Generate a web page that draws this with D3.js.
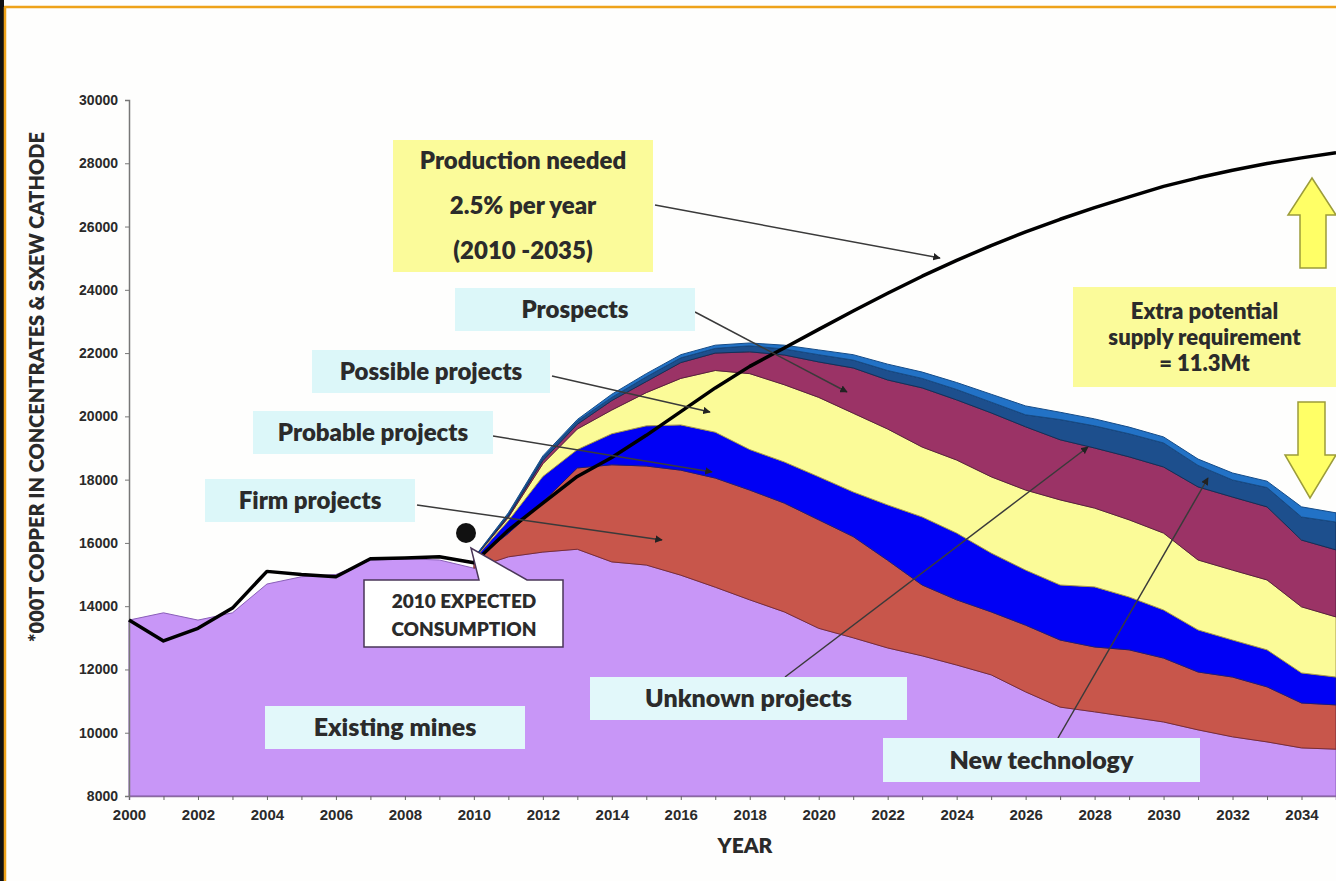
<!DOCTYPE html>
<html>
<head>
<meta charset="utf-8">
<script src="https://cdn.jsdelivr.net/npm/d3@7"></script>
<style>
  html, body { margin: 0; padding: 0; background: #fefefd; }
  svg { display: block; }
</style>
</head>
<body>
<div id="chart"></div>
<script>
// years on the x axis
const years = d3.range(2000, 2036)
const yTicks = d3.range(8000, 30001, 2000)

// '000 t copper
const existingMines = [13560, 13790, 13560, 13790, 14700, 14930, 15000, 15450, 15500, 15460,
  15200, 15560, 15710, 15800, 15400, 15300, 14980, 14600, 14200, 13820,
  13300, 13000, 12680, 12430, 12140, 11830, 11290, 10810, 10660, 10500,
  10340, 10090, 9870, 9710, 9520, 9480]

// project layers start in 2010 (increments on top of each other)
const firmProjects = [250, 740, 1590, 2570, 3070, 3130, 3320, 3450, 3470, 3440,
  3430, 3200, 2770, 2240, 2060, 1990, 2110, 2120, 2050, 2120,
  2020, 1830, 1890, 1740, 1420, 1400]
const probableProjects = [30, 400, 800, 580, 980, 1270, 1430, 1450, 1280, 1300,
  1360, 1410, 1750, 2150, 2110, 1860, 1740, 1740, 1900, 1670,
  1520, 1330, 1170, 1170, 950, 880]
const possibleProjects = [20, 100, 400, 650, 750, 1050, 1470, 1950, 2400, 2440,
  2510, 2490, 2400, 2210, 2310, 2410, 2530, 2690, 2490, 2440,
  2430, 2210, 2210, 2210, 2090, 1900]
const prospects = [10, 50, 100, 150, 300, 350, 500, 550, 690, 940,
  1120, 1430, 1550, 1870, 1900, 2020, 2000, 1900, 1900, 1990,
  2090, 2310, 2310, 2310, 2110, 2120]
const unknownProjects = [10, 50, 100, 100, 100, 150, 150, 150, 190, 190,
  230, 250, 300, 300, 330, 340, 380, 640, 700, 730,
  760, 680, 540, 610, 730, 880]
const newTechnology = [10, 50, 50, 50, 100, 100, 100, 100, 90, 120,
  150, 170, 200, 200, 220, 250, 280, 230, 220, 210,
  190, 200, 220, 200, 320, 290]

const productionNeeded = [13560, 12900, 13300, 13940, 15100, 15000, 14930, 15500, 15520, 15560,
  15370, 16400, 17260, 18100, 18700, 19400, 20150, 20900, 21580, 22160,
  22750, 23330, 23890, 24430, 24930, 25400, 25830, 26230, 26600, 26940,
  27270, 27540, 27780, 27990, 28170, 28330]

const W = 1336, H = 881
const svg = d3.select('#chart').append('svg')
  .attr('width', W)
  .attr('height', H)

svg.append('rect').attr('width', W).attr('height', H).attr('fill', '#fefefd')

// slide frame
svg.append('rect').attr('x', 0).attr('y', 0).attr('width', 4).attr('height', H).attr('fill', '#111')
svg.append('line').attr('x1', 4).attr('x2', W).attr('y1', 7).attr('y2', 7)
  .attr('stroke', '#eea21a').attr('stroke-width', 2.5)
svg.append('line').attr('x1', 5).attr('x2', 5).attr('y1', 7).attr('y2', H)
  .attr('stroke', '#eea21a').attr('stroke-width', 2.5)

const x = d3.scaleLinear().domain([2000, 2035]).range([129, 1336])
const y = d3.scaleLinear().domain([8000, 30000]).range([796, 100])

const keys = ['existing', 'firm', 'probable', 'possible', 'prospects', 'unknown', 'newtech']
const fills = ['#c896f7', '#c8564b', '#0000f5', '#fbfb98', '#9b3366', '#1d4f8d', '#2272c6']
const strokes = ['#8a5fb8', '#7a2c35', '#1a1a80', '#a89a50', '#5a1f40', '#12305a', '#164c88']

const rows = years.map(function (yr, i) {
  const j = yr - 2010
  return {
    year: yr,
    existing: existingMines[i],
    firm: j >= 0 ? firmProjects[j] : 0,
    probable: j >= 0 ? probableProjects[j] : 0,
    possible: j >= 0 ? possibleProjects[j] : 0,
    prospects: j >= 0 ? prospects[j] : 0,
    unknown: j >= 0 ? unknownProjects[j] : 0,
    newtech: j >= 0 ? newTechnology[j] : 0
  }
})

const series = d3.stack().keys(keys)(rows)

const area = d3.area()
  .x(d => x(d.data.year))
  .y0(d => y(Math.max(d[0], 8000)))
  .y1(d => y(d[1]))

const projArea = d3.area()
  .defined(d => d.data.year >= 2010)
  .x(d => x(d.data.year))
  .y0(d => y(d[0]))
  .y1(d => y(d[1]))

series.forEach(function (s, i) {
  svg.append('path')
    .datum(s)
    .attr('d', i === 0 ? area : projArea)
    .attr('fill', fills[i])
    .attr('stroke', strokes[i])
    .attr('stroke-width', 1)
    .attr('stroke-linejoin', 'round')
})

const tickFont = '"Liberation Sans Narrow", "Arial Narrow", sans-serif'

// axes
const xAxis = d3.axisBottom(x).tickValues(years).tickSize(4)
  .tickFormat(d => (d % 2 === 0 && d < 2035) ? d : '')
const gx = svg.append('g').attr('transform', 'translate(0,796)').call(xAxis)
gx.select('.domain').attr('stroke', '#8a6aa0').attr('stroke-width', 1.5)
gx.selectAll('.tick line').attr('stroke', '#666')
gx.selectAll('.tick text')
  .attr('y', 10)
  .attr('dy', '0.9em')
  .style('font-family', tickFont)
  .style('font-weight', 'bold')
  .style('font-size', '15px')
  .attr('fill', '#2a2a2a')

const yAxis = d3.axisLeft(y).tickValues(yTicks).tickSize(4).tickFormat(d3.format('d'))
const gy = svg.append('g').attr('transform', 'translate(129,0)').call(yAxis)
gy.select('.domain').attr('stroke', '#777').attr('stroke-width', 1.5)
gy.selectAll('.tick line').attr('stroke', '#777')
gy.selectAll('.tick text')
  .attr('x', -11)
  .style('font-family', tickFont)
  .style('font-weight', 'bold')
  .style('font-size', '14px')
  .attr('fill', '#2a2a2a')

const labelFont = 'Lato, sans-serif'

svg.append('text')
  .attr('transform', 'translate(44,387) rotate(-90)')
  .attr('text-anchor', 'middle')
  .style('font-family', labelFont)
  .style('font-weight', 800)
  .style('font-size', '20px')
  .attr('fill', '#2a2a2a')
  .text('*000T COPPER IN CONCENTRATES & SXEW CATHODE')

svg.append('text')
  .attr('x', 745).attr('y', 853)
  .attr('text-anchor', 'middle')
  .style('font-family', labelFont)
  .style('font-weight', 800)
  .style('font-size', '21px')
  .attr('fill', '#2a2a2a')
  .text('YEAR')

// production needed line
const line = d3.line().x((d, i) => x(years[i])).y(d => y(d))
svg.append('path')
  .datum(productionNeeded)
  .attr('d', line)
  .attr('fill', 'none')
  .attr('stroke', '#000')
  .attr('stroke-width', 3.5)
  .attr('stroke-linejoin', 'round')

// arrow heads
svg.append('defs').append('marker')
  .attr('id', 'head')
  .attr('viewBox', '0 0 10 10')
  .attr('refX', 9).attr('refY', 5)
  .attr('markerWidth', 5).attr('markerHeight', 5)
  .attr('orient', 'auto')
  .append('path').attr('d', 'M0,0L10,5L0,10z').attr('fill', '#222')

const pointers = [
  [655, 205, 940, 258],
  [695, 312, 847, 392],
  [552, 376, 710, 412],
  [493, 436, 712, 472],
  [417, 505, 662, 540],
  [785, 677, 1088, 447],
  [1058, 738, 1208, 478]
]
svg.selectAll('.ptr').data(pointers).enter().append('line')
  .attr('class', 'ptr')
  .attr('x1', d => d[0]).attr('y1', d => d[1])
  .attr('x2', d => d[2]).attr('y2', d => d[3])
  .attr('stroke', '#3a3a3a')
  .attr('stroke-width', 1.5)
  .attr('marker-end', 'url(#head)')

// label boxes
const labels = [
  { lines: ['Production needed', '2.5% per year', '(2010 -2035)'], x: 393, y: 140, w: 260, h: 132, fill: '#fbfb9a', size: 24, gap: 45 },
  { lines: ['Prospects'], x: 455, y: 288, w: 240, h: 43, fill: '#dcf7f9', size: 24 },
  { lines: ['Possible projects'], x: 312, y: 350, w: 238, h: 43, fill: '#dcf7f9', size: 24 },
  { lines: ['Probable projects'], x: 253, y: 411, w: 240, h: 43, fill: '#dcf7f9', size: 24 },
  { lines: ['Firm projects'], x: 205, y: 479, w: 210, h: 43, fill: '#dcf7f9', size: 24 },
  { lines: ['Existing mines'], x: 265, y: 706, w: 260, h: 43, fill: '#e2f8fa', size: 25 },
  { lines: ['Unknown projects'], x: 590, y: 677, w: 317, h: 43, fill: '#e2f8fa', size: 25 },
  { lines: ['New technology'], x: 883, y: 738, w: 317, h: 44, fill: '#e2f8fa', size: 25 },
  { lines: ['Extra potential', 'supply requirement', '= 11.3Mt'], x: 1073, y: 287, w: 263, h: 100, fill: '#fbfb9a', size: 22, gap: 26 }
]

labels.forEach(function (b) {
  svg.append('rect')
    .attr('x', b.x).attr('y', b.y).attr('width', b.w).attr('height', b.h)
    .attr('fill', b.fill)
  const gap = b.gap || 0
  const top = b.y + b.h / 2 - gap * (b.lines.length - 1) / 2
  b.lines.forEach(function (t, i) {
    svg.append('text')
      .attr('x', b.x + b.w / 2)
      .attr('y', top + i * gap)
      .attr('dy', '0.35em')
      .attr('text-anchor', 'middle')
      .style('font-family', labelFont)
      .style('font-weight', 800)
      .style('font-size', b.size + 'px')
      .attr('fill', '#2b2b2b')
      .text(t)
  })
})

// yellow block arrows
svg.append('path')
  .attr('d', 'M1312,178 L1336,215 L1326,215 L1326,268 L1300,268 L1300,215 L1288,215 Z')
  .attr('fill', '#ffff66').attr('stroke', '#9c9c3a').attr('stroke-width', 1.5)
svg.append('path')
  .attr('d', 'M1298,402 L1325,402 L1325,455 L1336,455 L1310,498 L1285,455 L1298,455 Z')
  .attr('fill', '#ffff66').attr('stroke', '#9c9c3a').attr('stroke-width', 1.5)

// 2010 expected consumption callout
svg.append('path')
  .attr('d', 'M364,580 L479,580 L471,548 L527,580 L563,580 L563,647 L364,647 Z')
  .attr('fill', '#fff').attr('stroke', '#4a3658').attr('stroke-width', 1.5)
svg.append('text').attr('x', 464).attr('y', 601).attr('dy', '0.35em')
  .attr('text-anchor', 'middle')
  .style('font-family', labelFont).style('font-weight', 800).style('font-size', '19px')
  .attr('fill', '#2b2b2b').text('2010 EXPECTED')
svg.append('text').attr('x', 464).attr('y', 629).attr('dy', '0.35em')
  .attr('text-anchor', 'middle')
  .style('font-family', labelFont).style('font-weight', 800).style('font-size', '19px')
  .attr('fill', '#2b2b2b').text('CONSUMPTION')

svg.append('circle').attr('cx', 466).attr('cy', 533).attr('r', 10).attr('fill', '#111')
</script>
</body>
</html>
